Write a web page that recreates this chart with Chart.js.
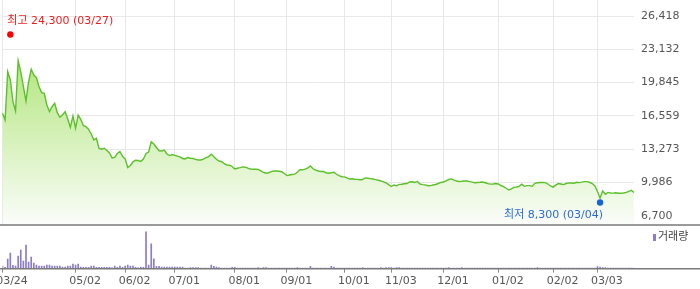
<!DOCTYPE html>
<html>
<head>
<meta charset="utf-8">
<script src="https://cdn.jsdelivr.net/npm/chart.js@4"></script>
<style>
  html, body { margin: 0; padding: 0; background: #fff; }
  #wrap { width: 700px; height: 289px; position: relative; }
</style>
</head>
<body>
<div id="wrap"><canvas id="stockChart"></canvas></div>
<script>
// trading days, 2025-03-24 .. 2026-03-23
const dates = [
  '03/24','03/25','03/26','03/27','03/28','03/31',
  '04/01','04/02','04/03','04/04','04/07','04/08','04/09','04/10','04/11','04/14','04/15','04/16','04/17','04/18','04/21','04/22','04/23','04/24','04/25','04/28','04/29','04/30',
  '05/02','05/07','05/08','05/09','05/12','05/13','05/14','05/15','05/16','05/19','05/20','05/21','05/22','05/23','05/26','05/27','05/28','05/29','05/30',
  '06/02','06/04','06/05','06/09','06/10','06/11','06/12','06/13','06/16','06/17','06/18','06/19','06/20','06/23','06/24','06/25','06/26','06/27','06/30',
  '07/01','07/02','07/03','07/04','07/07','07/08','07/09','07/10','07/11','07/14','07/15','07/16','07/17','07/18','07/21','07/22','07/23','07/24','07/25','07/28','07/29','07/30','07/31',
  '08/01','08/04','08/05','08/06','08/07','08/08','08/11','08/12','08/13','08/14','08/18','08/19','08/20','08/21','08/22','08/25','08/26','08/27','08/28','08/29',
  '09/01','09/02','09/03','09/04','09/05','09/08','09/09','09/10','09/11','09/12','09/15','09/16','09/17','09/18','09/19','09/22','09/23','09/24','09/25','09/26','09/29','09/30',
  '10/01','10/02','10/10','10/13','10/14','10/15','10/16','10/17','10/20','10/21','10/22','10/23','10/24','10/27','10/28','10/29','10/30','10/31',
  '11/03','11/04','11/05','11/06','11/07','11/10','11/11','11/12','11/13','11/14','11/17','11/18','11/19','11/20','11/21','11/24','11/25','11/26','11/27','11/28',
  '12/01','12/02','12/03','12/04','12/05','12/08','12/09','12/10','12/11','12/12','12/15','12/16','12/17','12/18','12/19','12/22','12/23','12/24','12/26','12/29','12/30',
  '01/02','01/05','01/06','01/07','01/08','01/09','01/12','01/13','01/14','01/15','01/16','01/19','01/20','01/21','01/22','01/23','01/26','01/27','01/28','01/29','01/30',
  '02/02','02/03','02/04','02/05','02/06','02/09','02/10','02/11','02/12','02/13','02/19','02/20','02/23','02/24','02/25','02/26','02/27',
  '03/03','03/04','03/05','03/06','03/09','03/10','03/11','03/12','03/13','03/16','03/17','03/18','03/19','03/20','03/23'
];

// closing price (won)
const closePrices = [
  16810, 16150, 20920, 20100, 17960, 17040, 22010, 20900, 19440, 18030,
  19930, 21160, 20590, 20330, 19440, 18850, 18790, 17630, 16970, 17460,
  17800, 16870, 16420, 16640, 16970, 16250, 15430, 16550, 15330, 16640,
  16220, 15590, 15490, 15230, 14770, 14180, 14340, 13350, 13260, 13360,
  13140, 12890, 12400, 12450, 12840, 13040, 12550, 12300, 11460, 11660,
  12020, 12180, 12150, 12050, 12300, 12840, 12990, 14000, 13780, 13430,
  13110, 13090, 13170, 12790, 12640, 12740, 12660, 12580, 12500, 12350,
  12300, 12450, 12370, 12350, 12260, 12200, 12200, 12280, 12440, 12540,
  12770, 12530, 12270, 12100, 12030, 11830, 11710, 11680, 11560, 11310,
  11380, 11440, 11520, 11490, 11390, 11310, 11280, 11290, 11260, 11120,
  10980, 10890, 10940, 11050, 11110, 11110, 11090, 11040, 10870, 10660,
  10720, 10770, 10800, 11020, 11250, 11230, 11290, 11410, 11610, 11330,
  11190, 11110, 11070, 11060, 10940, 10890, 10940, 10990, 10790, 10660,
  10550, 10530, 10440, 10320, 10350, 10300, 10290, 10250, 10270, 10430,
  10400, 10360, 10320, 10260, 10200, 10130, 10040, 9930, 9760, 9580,
  9730, 9650, 9790, 9800, 9850, 9880, 10030, 10050, 9980, 10080,
  9830, 9770, 9740, 9660, 9670, 9730, 9780, 9880, 9980, 10030,
  10140, 10270, 10330, 10210, 10130, 10080, 10100, 10130, 10130, 10060,
  10010, 9960, 9980, 10000, 10030, 9950, 9870, 9820, 9830, 9880,
  9830, 9680, 9570, 9410, 9240, 9340, 9500, 9530, 9600, 9810,
  9600, 9670, 9670, 9600, 9890, 9950, 9980, 9990, 9970, 9830,
  9630, 9520, 9710, 9870, 9830, 9770, 9880, 9940, 9930, 9910,
  10000, 9970, 10010, 10060, 10060, 10000, 9870, 9630, 9090, 8450,
  9140, 8820, 9000, 8940, 8930, 8960, 8910, 8910, 8940, 9000,
  9100, 9200, 8990
];

// volume (thousand shares)
const volumes = [
  135, 65, 485, 785, 165, 135, 635, 935, 385, 1185,
  335, 585, 285, 185, 135, 135, 135, 185, 185, 135,
  135, 135, 135, 85, 85, 135, 135, 235, 185, 235,
  85, 65, 65, 65, 135, 135, 65, 65, 65, 65,
  65, 65, 40, 135, 65, 135, 65, 135, 185, 135,
  135, 65, 40, 65, 65, 1850, 185, 1250, 500, 115,
  115, 85, 85, 85, 85, 85, 85, 85, 85, 85,
  30, 30, 50, 50, 50, 50, 25, 25, 25, 30,
  185, 115, 85, 50, 25, 25, 25, 25, 70, 70,
  25, 25, 25, 25, 25, 25, 25, 25, 60, 30,
  60, 60, 25, 25, 25, 25, 25, 25, 25, 25,
  25, 25, 25, 60, 25, 25, 25, 25, 115, 25,
  25, 25, 25, 25, 25, 25, 115, 80, 25, 25,
  25, 25, 25, 25, 25, 25, 25, 25, 60, 25,
  25, 25, 25, 25, 25, 60, 25, 60, 60, 60,
  25, 60, 60, 25, 25, 25, 25, 25, 25, 25,
  25, 25, 25, 25, 25, 25, 25, 25, 25, 25,
  25, 60, 25, 25, 25, 25, 60, 25, 25, 25,
  25, 25, 25, 25, 25, 25, 25, 25, 25, 25,
  25, 25, 25, 25, 25, 25, 25, 25, 25, 25,
  25, 25, 25, 25, 25, 60, 25, 25, 25, 25,
  25, 25, 25, 25, 25, 25, 25, 25, 25, 25,
  25, 25, 25, 25, 25, 25, 25, 25, 100, 80,
  60, 60, 25, 25, 25, 25, 25, 25, 25, 25,
  25, 25, 25
];

const priceTicks = [6700, 9986, 13273, 16559, 19845, 23132, 26418];
const xTickLabels = ['03/24', '05/02', '06/02', '07/01', '08/01', '09/01', '10/01', '11/03', '12/01', '01/02', '02/02', '03/03'];
const highPoint = { date: '03/27', value: 24300 };
const lowPoint = { date: '03/04', value: 8300 };

const FONT = '"DejaVu Sans", "Noto Sans CJK KR", sans-serif';
const fmt = v => v.toLocaleString('en-US');

const overlay = {
  id: 'overlay',
  beforeDatasetsDraw(chart) {
    // keep the vertical grid out of the volume pane
    const v = chart.scales.yVol;
    const ctx = chart.ctx;
    ctx.save();
    ctx.fillStyle = '#fff';
    ctx.fillRect(0, v.top + 1, chart.width, v.bottom - v.top - 1);
    ctx.restore();
  },
  afterDraw(chart) {
    const ctx = chart.ctx;
    const x = chart.scales.x, y = chart.scales.y, v = chart.scales.yVol;
    ctx.save();
    // pane separators
    ctx.strokeStyle = '#7a7a7a';
    ctx.lineWidth = 1.5;
    ctx.beginPath();
    ctx.moveTo(0, y.bottom); ctx.lineTo(chart.width, y.bottom);
    ctx.moveTo(0, v.bottom); ctx.lineTo(chart.width, v.bottom);
    ctx.stroke();

    ctx.font = '11px ' + FONT;
    ctx.textBaseline = 'middle';

    // high marker
    let px = x.getPixelForValue(dates.indexOf(highPoint.date));
    let py = y.getPixelForValue(highPoint.value) - 3;
    ctx.fillStyle = '#ff0000';
    ctx.beginPath(); ctx.arc(px, py, 3.2, 0, Math.PI * 2); ctx.fill();
    ctx.fillStyle = '#ee1c1c';
    ctx.textAlign = 'left';
    ctx.fillText('최고 ' + fmt(highPoint.value) + ' (' + highPoint.date + ')', px - 3, py - 13);

    // low marker
    px = x.getPixelForValue(dates.lastIndexOf(lowPoint.date));
    py = y.getPixelForValue(lowPoint.value) + 3;
    ctx.fillStyle = '#1565d8';
    ctx.beginPath(); ctx.arc(px, py, 3.2, 0, Math.PI * 2); ctx.fill();
    ctx.fillStyle = '#2a6ad4';
    ctx.textAlign = 'right';
    ctx.fillText('최저 ' + fmt(lowPoint.value) + ' (' + lowPoint.date + ')', px + 3, py + 13);

    // volume legend
    ctx.fillStyle = '#8c7bc6';
    ctx.fillRect(653, v.top + 9, 3, 7);
    ctx.fillStyle = '#444';
    ctx.textAlign = 'left';
    ctx.fillText('거래량', 658, v.top + 12.5);
    ctx.restore();
  }
};

const ctx = document.getElementById('stockChart').getContext('2d');
const stockChart = new Chart(ctx, {
  type: 'line',
  data: {
    labels: dates,
    datasets: [
      {
        label: '종가',
        data: closePrices,
        yAxisID: 'y',
        borderColor: '#5cc02a',
        borderWidth: 1.4,
        pointRadius: 0,
        tension: 0,
        fill: 'start',
        backgroundColor: (c) => {
          const chart = c.chart;
          const area = chart.chartArea;
          if (!area) return 'rgba(0,0,0,0)';
          const g = chart.ctx.createLinearGradient(0, area.top, 0, chart.scales.y.bottom);
          g.addColorStop(0, 'rgb(153,222,82)');
          g.addColorStop(1, 'rgb(251,253,250)');
          return g;
        },
      },
      {
        type: 'bar',
        label: '거래량',
        data: volumes,
        yAxisID: 'yVol',
        backgroundColor: '#8c7bc6',
        barThickness: 1,
      },
    ],
  },
  options: {
    responsive: true,
    maintainAspectRatio: false,
    animation: false,
    devicePixelRatio: 1,
    layout: { padding: { left: 2.5, right: 0, top: 0, bottom: 0 } },
    plugins: { legend: { display: false }, tooltip: { enabled: false } },
    scales: {
      x: {
        offset: false,
        grid: { offset: false, color: '#e8e8e8', tickColor: '#8a8a8a', tickLength: 4 },
        border: { display: false },
        afterBuildTicks: (s) => {
          s.ticks = s.ticks.filter((t) => xTickLabels.includes(dates[t.value]));
        },
        afterFit: (s) => {
          s.paddingLeft = 0;
          s.paddingRight = 0;
          s.height = 20.3;
        },
        ticks: {
          autoSkip: false,
          maxRotation: 0,
          labelOffset: 9.5,
          padding: 2,
          color: '#555',
          font: { family: FONT, size: 11 },
        },
      },
      y: {
        position: 'right',
        stack: 'pane',
        stackWeight: 225,
        min: 5780,
        max: 28000,
        afterBuildTicks: (s) => {
          s.ticks = priceTicks.map((v) => ({ value: v }));
        },
        afterFit: (s) => {
          s.width = 66;
          s.paddingTop = 0;
          s.paddingBottom = 0;
        },
        grid: { color: '#e8e8e8', drawTicks: false },
        border: { display: false },
        ticks: {
          padding: 7,
          color: '#555',
          font: { family: FONT, size: 11 },
          callback: (v) => fmt(v),
        },
      },
      yVol: {
        position: 'right',
        stack: 'pane',
        stackWeight: 43.7,
        min: 0,
        max: 2190,
        afterFit: (s) => {
          s.paddingTop = 0;
          s.paddingBottom = 0;
        },
        grid: { display: false, drawTicks: false },
        border: { display: false },
        ticks: { display: false },
      },
    },
  },
  plugins: [overlay],
});
</script>
</body>
</html>
